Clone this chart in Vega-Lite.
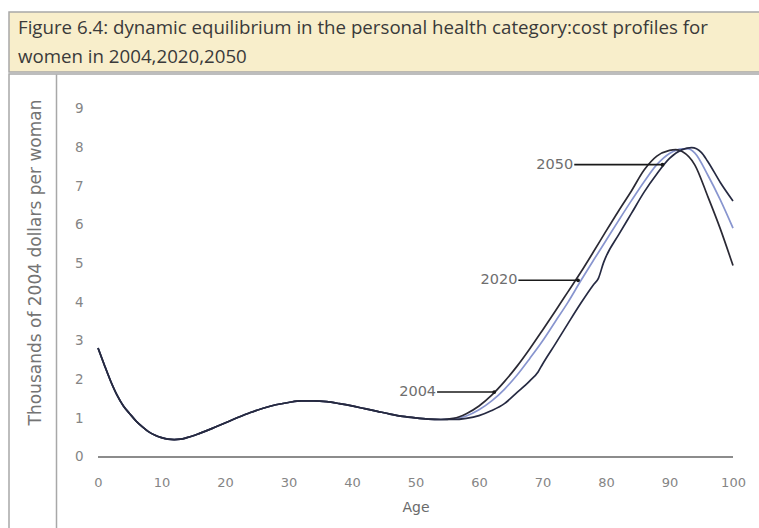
{
  "$schema": "https://vega.github.io/schema/vega-lite/v6.json",
  "padding": {"left": 8, "top": 11, "right": 0, "bottom": 0},
  "background": "white",
  "spacing": 0,
  "config": {
    "axis": {"grid": false, "labelFont": "DejaVu Sans", "labelFontSize": 13, "labelColor": "#858585", "titleFont": "DejaVu Sans", "titleFontWeight": "normal", "titleColor": "#6a6a6a"}
  },
  "datasets": {
    "curves": [
      {"series": "2020", "age": 0, "value": 2.82}, {"series": "2020", "age": 1, "value": 2.38}, {"series": "2020", "age": 2, "value": 1.96}, {"series": "2020", "age": 3, "value": 1.6}, {"series": "2020", "age": 4, "value": 1.32}, {"series": "2020", "age": 5, "value": 1.12}, {"series": "2020", "age": 6, "value": 0.93}, {"series": "2020", "age": 7, "value": 0.78}, {"series": "2020", "age": 8, "value": 0.65}, {"series": "2020", "age": 9, "value": 0.56}, {"series": "2020", "age": 10, "value": 0.5}, {"series": "2020", "age": 11, "value": 0.46}, {"series": "2020", "age": 12, "value": 0.45}, {"series": "2020", "age": 13, "value": 0.46}, {"series": "2020", "age": 14, "value": 0.5}, {"series": "2020", "age": 15, "value": 0.55}, {"series": "2020", "age": 16, "value": 0.61}, {"series": "2020", "age": 18, "value": 0.74}, {"series": "2020", "age": 20, "value": 0.88}, {"series": "2020", "age": 22, "value": 1.02}, {"series": "2020", "age": 24, "value": 1.15}, {"series": "2020", "age": 26, "value": 1.26}, {"series": "2020", "age": 28, "value": 1.35}, {"series": "2020", "age": 30, "value": 1.41}, {"series": "2020", "age": 32, "value": 1.45}, {"series": "2020", "age": 34, "value": 1.45}, {"series": "2020", "age": 36, "value": 1.43}, {"series": "2020", "age": 38, "value": 1.38}, {"series": "2020", "age": 40, "value": 1.32}, {"series": "2020", "age": 42, "value": 1.25}, {"series": "2020", "age": 44, "value": 1.18}, {"series": "2020", "age": 46, "value": 1.11}, {"series": "2020", "age": 48, "value": 1.05}, {"series": "2020", "age": 50, "value": 1.01}, {"series": "2020", "age": 52, "value": 0.98}, {"series": "2020", "age": 54, "value": 0.97}, {"series": "2020", "age": 56, "value": 0.99}, {"series": "2020", "age": 58, "value": 1.06}, {"series": "2020", "age": 60, "value": 1.22}, {"series": "2020", "age": 62, "value": 1.45}, {"series": "2020", "age": 64, "value": 1.75}, {"series": "2020", "age": 66, "value": 2.12}, {"series": "2020", "age": 68, "value": 2.55}, {"series": "2020", "age": 70, "value": 3.0}, {"series": "2020", "age": 72, "value": 3.5}, {"series": "2020", "age": 74, "value": 4.0}, {"series": "2020", "age": 76, "value": 4.55}, {"series": "2020", "age": 78, "value": 5.08}, {"series": "2020", "age": 80, "value": 5.6}, {"series": "2020", "age": 82, "value": 6.12}, {"series": "2020", "age": 84, "value": 6.63}, {"series": "2020", "age": 86, "value": 7.12}, {"series": "2020", "age": 88, "value": 7.56}, {"series": "2020", "age": 90, "value": 7.85}, {"series": "2020", "age": 92, "value": 7.97}, {"series": "2020", "age": 93, "value": 7.97}, {"series": "2020", "age": 94, "value": 7.86}, {"series": "2020", "age": 96, "value": 7.3}, {"series": "2020", "age": 98, "value": 6.65}, {"series": "2020", "age": 100, "value": 5.92},
      {"series": "2004", "age": 0, "value": 2.82}, {"series": "2004", "age": 1, "value": 2.38}, {"series": "2004", "age": 2, "value": 1.96}, {"series": "2004", "age": 3, "value": 1.6}, {"series": "2004", "age": 4, "value": 1.32}, {"series": "2004", "age": 5, "value": 1.12}, {"series": "2004", "age": 6, "value": 0.93}, {"series": "2004", "age": 7, "value": 0.78}, {"series": "2004", "age": 8, "value": 0.65}, {"series": "2004", "age": 9, "value": 0.56}, {"series": "2004", "age": 10, "value": 0.5}, {"series": "2004", "age": 11, "value": 0.46}, {"series": "2004", "age": 12, "value": 0.45}, {"series": "2004", "age": 13, "value": 0.46}, {"series": "2004", "age": 14, "value": 0.5}, {"series": "2004", "age": 15, "value": 0.55}, {"series": "2004", "age": 16, "value": 0.61}, {"series": "2004", "age": 18, "value": 0.74}, {"series": "2004", "age": 20, "value": 0.88}, {"series": "2004", "age": 22, "value": 1.02}, {"series": "2004", "age": 24, "value": 1.15}, {"series": "2004", "age": 26, "value": 1.26}, {"series": "2004", "age": 28, "value": 1.35}, {"series": "2004", "age": 30, "value": 1.41}, {"series": "2004", "age": 32, "value": 1.45}, {"series": "2004", "age": 34, "value": 1.45}, {"series": "2004", "age": 36, "value": 1.43}, {"series": "2004", "age": 38, "value": 1.38}, {"series": "2004", "age": 40, "value": 1.32}, {"series": "2004", "age": 42, "value": 1.25}, {"series": "2004", "age": 44, "value": 1.18}, {"series": "2004", "age": 46, "value": 1.11}, {"series": "2004", "age": 48, "value": 1.05}, {"series": "2004", "age": 50, "value": 1.01}, {"series": "2004", "age": 52, "value": 0.98}, {"series": "2004", "age": 54, "value": 0.97}, {"series": "2004", "age": 56, "value": 1.0}, {"series": "2004", "age": 58, "value": 1.12}, {"series": "2004", "age": 60, "value": 1.32}, {"series": "2004", "age": 62, "value": 1.6}, {"series": "2004", "age": 64, "value": 1.95}, {"series": "2004", "age": 66, "value": 2.35}, {"series": "2004", "age": 68, "value": 2.8}, {"series": "2004", "age": 70, "value": 3.28}, {"series": "2004", "age": 72, "value": 3.77}, {"series": "2004", "age": 74, "value": 4.27}, {"series": "2004", "age": 76, "value": 4.77}, {"series": "2004", "age": 78, "value": 5.3}, {"series": "2004", "age": 80, "value": 5.84}, {"series": "2004", "age": 82, "value": 6.37}, {"series": "2004", "age": 84, "value": 6.88}, {"series": "2004", "age": 86, "value": 7.42}, {"series": "2004", "age": 88, "value": 7.78}, {"series": "2004", "age": 90, "value": 7.93}, {"series": "2004", "age": 91, "value": 7.95}, {"series": "2004", "age": 92, "value": 7.9}, {"series": "2004", "age": 94, "value": 7.55}, {"series": "2004", "age": 96, "value": 6.75}, {"series": "2004", "age": 98, "value": 5.9}, {"series": "2004", "age": 100, "value": 4.95},
      {"series": "2050", "age": 0, "value": 2.82}, {"series": "2050", "age": 1, "value": 2.38}, {"series": "2050", "age": 2, "value": 1.96}, {"series": "2050", "age": 3, "value": 1.6}, {"series": "2050", "age": 4, "value": 1.32}, {"series": "2050", "age": 5, "value": 1.12}, {"series": "2050", "age": 6, "value": 0.93}, {"series": "2050", "age": 7, "value": 0.78}, {"series": "2050", "age": 8, "value": 0.65}, {"series": "2050", "age": 9, "value": 0.56}, {"series": "2050", "age": 10, "value": 0.5}, {"series": "2050", "age": 11, "value": 0.46}, {"series": "2050", "age": 12, "value": 0.45}, {"series": "2050", "age": 13, "value": 0.46}, {"series": "2050", "age": 14, "value": 0.5}, {"series": "2050", "age": 15, "value": 0.55}, {"series": "2050", "age": 16, "value": 0.61}, {"series": "2050", "age": 18, "value": 0.74}, {"series": "2050", "age": 20, "value": 0.88}, {"series": "2050", "age": 22, "value": 1.02}, {"series": "2050", "age": 24, "value": 1.15}, {"series": "2050", "age": 26, "value": 1.26}, {"series": "2050", "age": 28, "value": 1.35}, {"series": "2050", "age": 30, "value": 1.41}, {"series": "2050", "age": 32, "value": 1.45}, {"series": "2050", "age": 34, "value": 1.45}, {"series": "2050", "age": 36, "value": 1.43}, {"series": "2050", "age": 38, "value": 1.38}, {"series": "2050", "age": 40, "value": 1.32}, {"series": "2050", "age": 42, "value": 1.25}, {"series": "2050", "age": 44, "value": 1.18}, {"series": "2050", "age": 46, "value": 1.11}, {"series": "2050", "age": 48, "value": 1.05}, {"series": "2050", "age": 50, "value": 1.01}, {"series": "2050", "age": 52, "value": 0.98}, {"series": "2050", "age": 54, "value": 0.97}, {"series": "2050", "age": 56, "value": 0.97}, {"series": "2050", "age": 58, "value": 1.0}, {"series": "2050", "age": 60, "value": 1.07}, {"series": "2050", "age": 62, "value": 1.2}, {"series": "2050", "age": 64, "value": 1.38}, {"series": "2050", "age": 66, "value": 1.67}, {"series": "2050", "age": 68, "value": 1.97}, {"series": "2050", "age": 69.3, "value": 2.2}, {"series": "2050", "age": 70, "value": 2.4}, {"series": "2050", "age": 72, "value": 2.92}, {"series": "2050", "age": 74, "value": 3.45}, {"series": "2050", "age": 76, "value": 3.97}, {"series": "2050", "age": 78, "value": 4.45}, {"series": "2050", "age": 78.8, "value": 4.62}, {"series": "2050", "age": 79.6, "value": 5.02}, {"series": "2050", "age": 80, "value": 5.18}, {"series": "2050", "age": 82, "value": 5.75}, {"series": "2050", "age": 84, "value": 6.3}, {"series": "2050", "age": 86, "value": 6.85}, {"series": "2050", "age": 88, "value": 7.32}, {"series": "2050", "age": 90, "value": 7.72}, {"series": "2050", "age": 92, "value": 7.95}, {"series": "2050", "age": 93.5, "value": 8.0}, {"series": "2050", "age": 95, "value": 7.88}, {"series": "2050", "age": 96, "value": 7.65}, {"series": "2050", "age": 98, "value": 7.1}, {"series": "2050", "age": 100, "value": 6.62}
    ],
    "labels": [
      {"year": "2004", "from": 53.4, "to": 62.4, "value": 1.68},
      {"year": "2020", "from": 66.2, "to": 75.6, "value": 4.57},
      {"year": "2050", "from": 75.0, "to": 88.9, "value": 7.56}
    ],
    "axisline": [{"start": 0, "end": 100, "value": 0}]
  },
  "vconcat": [
    {
      "width": 751,
      "height": 60,
      "view": {"fill": "#f8eecb", "stroke": "#a8a8a8", "strokeWidth": 1.5},
      "title": {
        "text": ["Figure 6.4: dynamic equilibrium in the personal health category:cost profiles for", "women in 2004,2020,2050"],
        "orient": "top",
        "anchor": "start",
        "frame": "group",
        "baseline": "top",
        "offset": -55,
        "dx": 9,
        "font": "Open Sans",
        "fontSize": 18.7,
        "fontWeight": "normal",
        "color": "#3a3a3a",
        "lineHeight": 29
      },
      "data": {"values": []},
      "mark": {"type": "rule"},
      "encoding": {}
    },
    {
      "width": 751,
      "height": 456,
      "view": {"stroke": "#a8a8a8", "strokeWidth": 1.5},
      "layer": [
        {
          "data": {"name": "curves"},
          "mark": {"type": "line", "interpolate": "monotone", "strokeWidth": 1.7},
          "encoding": {
            "x": {
              "field": "age", "type": "quantitative",
              "scale": {"domain": [-14.016, 104.25], "nice": false, "zero": false},
              "axis": {"orient": "bottom", "offset": -73, "domain": false, "ticks": false, "values": [0, 10, 20, 30, 40, 50, 60, 70, 80, 90, 100], "labelPadding": 19, "title": "Age", "titleFontSize": 14, "titlePadding": 11, "titleX": 406.5}
            },
            "y": {
              "field": "value", "type": "quantitative",
              "scale": {"domain": [-1.888, 9.905], "nice": false, "zero": false},
              "axis": {"orient": "left", "offset": -47, "domain": true, "domainColor": "#a8a8a8", "domainWidth": 1.5, "ticks": false, "values": [0, 1, 2, 3, 4, 5, 6, 7, 8, 9], "labelPadding": -27, "labelFontSize": 13.5, "title": "Thousands of 2004 dollars per woman", "titleFontSize": 17, "titlePadding": 12, "titleY": 188, "titleColor": "#747474"}
            },
            "color": {"field": "series", "type": "nominal", "scale": {"domain": ["2020", "2004", "2050"], "range": ["#8895cf", "#2a2934", "#262a42"]}, "legend": null},
            "detail": {"field": "series"}
          }
        },
        {
          "data": {"name": "axisline"},
          "mark": {"type": "rule", "color": "#8c8c8c", "strokeWidth": 2},
          "encoding": {
            "x": {"field": "start", "type": "quantitative"},
            "x2": {"field": "end"},
            "y": {"field": "value", "type": "quantitative"}
          }
        },
        {
          "data": {"name": "labels"},
          "mark": {"type": "rule", "color": "#1a1a1a", "strokeWidth": 1.6},
          "encoding": {
            "x": {"field": "from", "type": "quantitative"},
            "x2": {"field": "to"},
            "y": {"field": "value", "type": "quantitative"}
          }
        },
        {
          "data": {"name": "labels"},
          "mark": {"type": "point", "filled": true, "color": "#1a1a1a", "size": 14, "opacity": 1},
          "encoding": {
            "x": {"field": "to", "type": "quantitative"},
            "y": {"field": "value", "type": "quantitative"}
          }
        },
        {
          "data": {"name": "labels"},
          "mark": {"type": "text", "align": "right", "baseline": "middle", "dx": -1, "font": "DejaVu Sans", "fontSize": 14.5, "color": "#6e6e6e"},
          "encoding": {
            "x": {"field": "from", "type": "quantitative"},
            "y": {"field": "value", "type": "quantitative"},
            "text": {"field": "year"}
          }
        }
      ]
    }
  ]
}
